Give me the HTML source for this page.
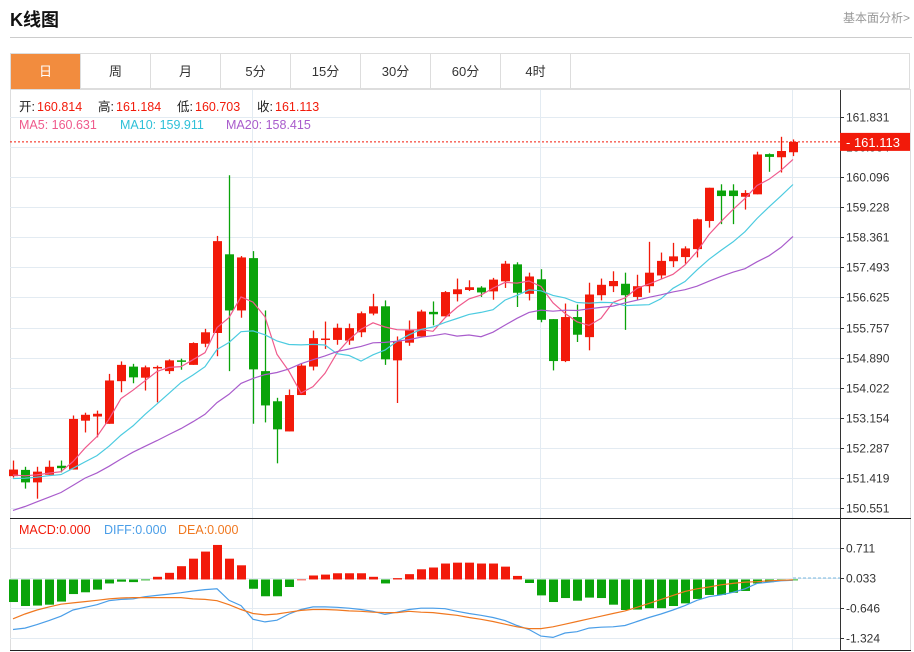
<!DOCTYPE html>
<html><head><meta charset="utf-8">
<style>
body{margin:0;background:#fff;font-family:"Liberation Sans","Noto Sans CJK SC",sans-serif;}
#wrap{position:relative;width:914px;height:652px;overflow:hidden;}
.title{position:absolute;left:10px;top:6px;font-size:18px;font-weight:bold;color:#111;}
.more{position:absolute;right:4px;top:9px;font-size:12px;color:#999;}
.sep{position:absolute;left:10px;top:37px;width:902px;height:1px;background:#ccc;}
.tabs{position:absolute;left:10px;top:53px;width:900px;height:36px;border:1px solid #ddd;box-sizing:border-box;}
.tab{position:absolute;top:0;width:70px;height:35px;line-height:35px;text-align:center;font-size:13px;color:#333;border-right:1px solid #ddd;box-sizing:border-box;}
.tab.on{background:#f28c3e;color:#fff;}
</style></head><body>
<div id="wrap">
<div class="title">K线图</div>
<div class="more">基本面分析&gt;</div>
<div class="sep"></div>
<div class="tabs">
<div class="tab on" style="left:0">日</div>
<div class="tab" style="left:70px">周</div>
<div class="tab" style="left:140px">月</div>
<div class="tab" style="left:210px">5分</div>
<div class="tab" style="left:280px">15分</div>
<div class="tab" style="left:350px">30分</div>
<div class="tab" style="left:420px">60分</div>
<div class="tab" style="left:490px">4时</div>
</div>
<svg id="chart" width="914" height="652" style="position:absolute;left:0;top:0"></svg>
</div>
<script>
const opens =  [151.47,151.65,151.29,151.51,151.77,151.66,153.07,153.19,152.98,154.21,154.63,154.31,154.58,154.50,154.81,154.68,155.29,155.60,157.87,156.25,157.76,154.50,153.63,152.76,153.81,154.63,155.40,155.40,155.38,155.62,156.16,156.37,154.81,155.32,155.50,156.21,156.08,156.72,156.84,156.91,156.80,157.09,157.58,156.73,157.15,156.00,154.79,156.06,155.48,156.69,156.95,157.02,156.64,156.95,157.26,157.67,157.79,158.02,158.83,159.71,159.71,159.53,159.60,160.76,160.67,160.814];
const closes = [151.66,151.29,151.60,151.74,151.70,153.12,153.24,153.27,154.23,154.68,154.32,154.61,154.62,154.81,154.79,155.31,155.62,158.25,156.25,157.78,154.55,153.51,152.82,153.81,154.66,155.45,155.44,155.75,155.74,156.17,156.37,154.84,155.36,155.69,156.22,156.14,156.78,156.86,156.92,156.77,157.14,157.60,156.76,157.23,155.98,154.79,156.06,155.55,156.71,156.99,157.10,156.69,156.95,157.34,157.68,157.81,158.04,158.88,159.79,159.55,159.55,159.64,160.75,160.68,160.85,161.113];
const highs =  [151.92,151.74,151.74,151.92,151.92,153.22,153.30,153.36,154.42,154.78,154.71,154.66,154.66,154.84,154.86,155.33,155.72,158.40,160.15,157.82,157.96,156.25,153.73,153.97,154.72,155.67,155.93,155.87,155.87,156.22,156.73,156.54,155.50,155.96,156.27,156.51,156.81,157.17,157.12,156.95,157.19,157.68,157.64,157.34,157.44,156.00,156.45,156.42,157.05,157.17,157.38,157.34,157.28,158.23,157.92,158.20,158.10,158.90,159.79,159.89,159.89,159.72,160.83,160.78,161.26,161.184];
const lows =   [151.43,151.11,150.82,151.51,151.58,151.66,152.73,152.59,152.98,153.89,154.15,153.94,153.60,154.42,154.54,154.68,155.19,154.93,154.50,156.04,152.98,153.02,151.84,152.76,153.81,154.52,155.14,155.26,155.26,155.48,156.11,154.68,153.58,155.23,155.50,155.82,156.08,156.51,156.81,156.64,156.56,156.90,156.35,156.54,155.91,154.52,154.76,155.34,155.10,156.54,156.78,155.69,156.54,156.76,157.15,157.50,157.60,157.78,158.64,158.74,158.74,159.16,159.60,160.25,160.23,160.703];
const priorCloses = [149.0,148.9,149.1,149.0,149.0,149.0,150.3,150.4,150.5,150.4,151.2,151.3,151.3,151.4,151.3,151.4,151.45,151.5,151.5];
const priceTicks = [161.831,160.964,160.096,159.228,158.361,157.493,156.625,155.757,154.890,154.022,153.154,152.287,151.419,150.551];
const macdHist = [-0.51,-0.60,-0.59,-0.57,-0.50,-0.33,-0.29,-0.23,-0.09,-0.05,-0.06,-0.02,0.06,0.15,0.30,0.47,0.63,0.78,0.47,0.32,-0.21,-0.38,-0.38,-0.17,0.00,0.09,0.11,0.14,0.14,0.14,0.06,-0.09,0.03,0.12,0.23,0.27,0.36,0.38,0.38,0.36,0.36,0.29,0.08,-0.08,-0.36,-0.51,-0.42,-0.48,-0.41,-0.42,-0.57,-0.69,-0.68,-0.65,-0.65,-0.60,-0.54,-0.44,-0.35,-0.35,-0.30,-0.26,-0.09,-0.06,-0.03,-0.02];
const diffLine = [-1.13,-1.10,-1.02,-0.93,-0.83,-0.69,-0.63,-0.57,-0.48,-0.45,-0.44,-0.39,-0.36,-0.33,-0.30,-0.26,-0.23,-0.21,-0.47,-0.59,-0.90,-0.96,-0.92,-0.78,-0.68,-0.62,-0.62,-0.63,-0.65,-0.68,-0.72,-0.79,-0.74,-0.68,-0.65,-0.65,-0.66,-0.72,-0.77,-0.81,-0.86,-0.93,-1.04,-1.13,-1.28,-1.31,-1.21,-1.18,-1.10,-1.08,-1.07,-1.04,-0.95,-0.86,-0.78,-0.69,-0.59,-0.47,-0.39,-0.35,-0.29,-0.21,-0.09,-0.06,-0.03,-0.02];
const deaLine = [-0.89,-0.78,-0.69,-0.62,-0.56,-0.53,-0.50,-0.47,-0.44,-0.42,-0.41,-0.41,-0.41,-0.41,-0.41,-0.44,-0.45,-0.48,-0.57,-0.68,-0.77,-0.80,-0.78,-0.74,-0.70,-0.68,-0.68,-0.69,-0.71,-0.72,-0.74,-0.75,-0.75,-0.72,-0.74,-0.75,-0.78,-0.81,-0.86,-0.90,-0.95,-1.01,-1.07,-1.11,-1.11,-1.07,-1.01,-0.95,-0.89,-0.83,-0.77,-0.71,-0.63,-0.54,-0.45,-0.36,-0.27,-0.21,-0.17,-0.12,-0.09,-0.06,-0.05,-0.03,-0.02,-0.01];
const macdTicks = [0.711,0.033,-0.646,-1.324];

const NS='http://www.w3.org/2000/svg';
const svg=document.getElementById('chart');
const L=10,R=840,PT=117,PB=508;
const pMax=161.831,pMin=150.551;
const xAt=i=>13+i*12;
const yP=p=>PT+(pMax-p)/(pMax-pMin)*(PB-PT);
const yM=v=>578-(v-0.033)*(30/0.678);
function el(tag,attrs,parent){const e=document.createElementNS(NS,tag);for(const k in attrs)e.setAttribute(k,attrs[k]);(parent||svg).appendChild(e);return e;}

// frame
let f;
f=el('rect',{x:10.5,y:89.5,width:900,height:561,fill:'none',stroke:'#ddd'});


[252,540,792].forEach(x=>{const g=el('line',{x1:x+.5,y1:90,x2:x+.5,y2:650,stroke:'#e3ebf2'});

});
priceTicks.forEach(p=>{const y=Math.round(yP(p))+.5;
const g=el('line',{x1:L,y1:y,x2:R,y2:y,stroke:'#e3ebf2'});


el('line',{x1:R,y1:y,x2:R+4,y2:y,stroke:'#333'});
const t=el('text',{x:R+6,y:y+4,'font-size':12,fill:'#333'});t.textContent=p.toFixed(3);

});
macdTicks.forEach(v=>{const y=Math.round(yM(v))+.5;
const g=el('line',{x1:L,y1:y,x2:R,y2:y,stroke:'#e3ebf2'});


el('line',{x1:R,y1:y,x2:R+4,y2:y,stroke:'#333'});
const t=el('text',{x:R+6,y:y+4,'font-size':12,fill:'#333'});t.textContent=v.toFixed(3);

});
el('line',{x1:R+.5,y1:90,x2:R+.5,y2:650,stroke:'#333'});
el('line',{x1:L,y1:518.5,x2:911,y2:518.5,stroke:'#222'});
el('line',{x1:L,y1:650.5,x2:911,y2:650.5,stroke:'#222'});

// candles
for(let i=0;i<closes.length;i++){
 const up=closes[i]>=opens[i];const c=up?'#f21a0a':'#0aa30a';const x=xAt(i);
 const g=el('g',{});
 
 
 el('line',{x1:x+.5,y1:yP(highs[i]),x2:x+.5,y2:yP(lows[i]),stroke:c,'stroke-width':1.3},g);
 const t=Math.min(yP(opens[i]),yP(closes[i])),b=Math.max(yP(opens[i]),yP(closes[i]));
 el('rect',{x:x-4,y:t,width:9,height:Math.max(1.5,b-t),fill:c},g);
}
// MAs
const all=priorCloses.concat(closes);
function ma(n){return closes.map((_,i)=>{const j=i+priorCloses.length;let s=0;for(let k=j-n+1;k<=j;k++)s+=all[k];return s/n;});}
[[5,'#ef5a8c','ma5-line'],[10,'#4ccbe0','ma10-line'],[20,'#a95ccc','ma20-line']].forEach(([n,c,nm])=>{
 const v=ma(n);const p=el('polyline',{points:v.map((m,i)=>xAt(i)+','+yP(m).toFixed(1)).join(' '),fill:'none',stroke:c,'stroke-width':1.2});
 
 
});
// last price
const lp=closes[closes.length-1];const ly=yP(lp);
el('line',{x1:L,y1:ly,x2:R,y2:ly,stroke:'#f21a0a','stroke-dasharray':'2,2'});
const lb=el('rect',{x:R,y:ly-9,width:70,height:18,fill:'#f21a0a'});


const lt=el('text',{x:R+6,y:ly+5,'font-size':13,fill:'#fff'});lt.textContent='- '+lp.toFixed(3);

// MACD
const z=yM(0);
macdHist.forEach((v,i)=>{const y=yM(v);const r=el('rect',{x:xAt(i)-4,y:Math.min(y,z),width:9,height:Math.max(0.8,Math.abs(y-z)),fill:v>=0?'#f21a0a':'#0aa30a'});

});
el('line',{x1:xAt(closes.length-1),y1:yM(0.033),x2:R,y2:yM(0.033),stroke:'#7ab8e0','stroke-dasharray':'3,2'});
[[diffLine,'#4a9ee8','diff-line'],[deaLine,'#f07820','dea-line']].forEach(([a,c,nm])=>{
 const p=el('polyline',{points:a.map((v,i)=>xAt(i)+','+yM(v).toFixed(1)).join(' '),fill:'none',stroke:c,'stroke-width':1.2});
 
 
});

// legends
function txt(x,y,s,c,nm){const t=el('text',{x:x,y:y,'font-size':12.5,fill:c});t.textContent=s;

return t;}
txt(19,111,'开:','#222','open-label');txt(37,111,'160.814','#f21a0a','open-value');
txt(98,111,'高:','#222','high-label');txt(116,111,'161.184','#f21a0a','high-value');
txt(177,111,'低:','#222','low-label');txt(195,111,'160.703','#f21a0a','low-value');
txt(257,111,'收:','#222','close-label');txt(275,111,'161.113','#f21a0a','close-value');
txt(19,129,'MA5: 160.631','#ef5a8c','ma5-legend');
txt(120,129,'MA10: 159.911','#2fc0d8','ma10-legend');
txt(226,129,'MA20: 158.415','#a95ccc','ma20-legend');
txt(19,534,'MACD:0.000','#f21a0a','macd-legend');
txt(104,534,'DIFF:0.000','#4a9ee8','diff-legend');
txt(178,534,'DEA:0.000','#f07820','dea-legend');
</script>
</body></html>
